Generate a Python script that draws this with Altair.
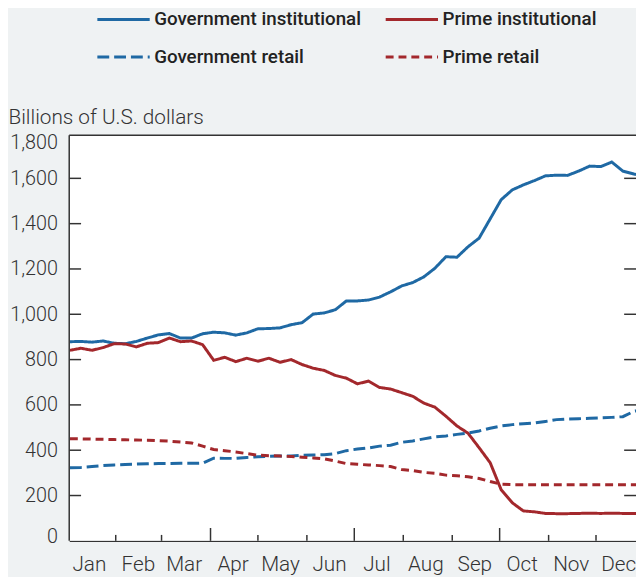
import altair as alt
import pandas as pd

# ---- data (weekly, 2016; billions of U.S. dollars) ----
weeks = pd.date_range("2016-01-03", periods=53, freq="7D").strftime("%Y-%m-%dT00:00:00").tolist()

series_names = ["Government institutional", "Government retail",
                "Prime institutional", "Prime retail"]

gov_inst = [879, 880, 877, 882, 872, 870, 880, 895, 909, 915, 895, 895, 914,
            921, 918, 908, 918, 936, 937, 940, 954, 963, 1001, 1006, 1020, 1059,
            1059, 1063, 1076, 1099, 1125, 1140, 1165, 1203, 1254, 1252, 1298, 1336,
            1421, 1506, 1549, 1571, 1590, 1611, 1614, 1613, 1632, 1654, 1652, 1672,
            1632, 1619, 1610]

prime_inst = [841, 850, 841, 853, 870, 869, 856, 872, 875, 895, 879, 882, 866,
              797, 810, 791, 806, 793, 806, 788, 800, 778, 762, 752, 730, 718,
              693, 705, 677, 670, 654, 638, 608, 590, 550, 507, 475, 411,
              345, 225, 168, 132, 128, 121, 120, 120, 121, 122, 121, 122,
              121, 121, 121]

gov_retail = [323, 324, 328, 332, 335, 337, 339, 340, 341, 341, 342, 342, 343,
              365, 364, 364, 368, 371, 373, 374, 375, 378, 379, 380, 385, 398,
              405, 410, 418, 422, 435, 441, 450, 459, 463, 470, 476, 485,
              497, 507, 513, 517, 520, 527, 535, 538, 539, 541, 543, 545,
              548, 572, 580]

prime_retail = [451, 450, 449, 448, 447, 446, 445, 444, 442, 440, 436, 432, 418,
                403, 398, 392, 385, 378, 376, 374, 372, 369, 366, 362, 352, 341,
                338, 335, 332, 328, 315, 310, 302, 298, 290, 287, 283, 275,
                262, 250, 248, 248, 248, 248, 248, 248, 248, 248, 248, 248,
                248, 248, 248]

y_labels = [0, 200, 400, 600, 800, 1000, 1200, 1400, 1600, 1800]
y_ticks = [200, 400, 600, 800, 1000, 1200, 1400, 1600]
top_border = [1790]
month_labels = [alt.DateTime(year=2016, month=m, date=15) for m in range(1, 13)]
month_ticks_short = ["2016-02-01T00:00:00", "2016-03-01T00:00:00", "2016-05-01T00:00:00",
                     "2016-06-01T00:00:00", "2016-08-01T00:00:00", "2016-09-01T00:00:00",
                     "2016-11-01T00:00:00", "2016-12-01T00:00:00"]
month_ticks_long = ["2016-04-01T00:00:00", "2016-07-01T00:00:00", "2016-10-01T00:00:00"]

rows = []
for name, vals in zip(["Government institutional", "Prime institutional",
                       "Government retail", "Prime retail"],
                      [gov_inst, prime_inst, gov_retail, prime_retail]):
    for d, v in zip(weeks, vals):
        rows.append({"date": d, "value": v, "series": name})
df = pd.DataFrame(rows)

# ---- styling ----
W, H = 574, 413
BLUE, RED = "#1f69a4", "#a3282c"
AX = "#333333"
FONT = "Roboto"
color_range = [BLUE, BLUE, RED, RED]
dash_range = [[1, 0], [12, 5], [1, 0], [8, 5]]

legend = alt.Legend(
    title=None, orient="none", legendX=27, legendY=-143, columns=2,
    values=series_names,
    symbolType="stroke", symbolSize=2809, symbolStrokeWidth=3,
    labelFont=FONT, labelFontSize=19,
    labelFontWeight=500, labelColor="#222222", labelLimit=400,
    columnPadding=18, rowPadding=-4, labelOffset=3, padding=0,
)

color = alt.Color("series:N", sort=series_names,
                  scale=alt.Scale(domain=series_names, range=color_range),
                  legend=legend)
dash = alt.StrokeDash("series:N", sort=series_names,
                      scale=alt.Scale(domain=series_names, range=dash_range),
                      legend=legend)

x_enc = alt.X(
    "date:T",
    scale=alt.Scale(domain=[alt.DateTime(year=2016, month=1, date=2, hours=13, minutes=30),
                            alt.DateTime(year=2016, month=12, date=26, hours=7, minutes=30)]),
    axis=alt.Axis(title=None, values=month_labels, format="%b", ticks=False, grid=False,
                  domain=True, domainColor=AX, domainWidth=1.5,
                  labelFont=FONT, labelFontSize=21, labelFontWeight=300, labelColor=AX,
                  labelPadding=13, labelOverlap=False, labelBound=False, labelFlush=False),
)
y_enc = alt.Y(
    "value:Q",
    scale=alt.Scale(domain=[0, 1800], nice=False, zero=True),
    axis=alt.Axis(values=y_labels, format=",.0f", ticks=False, grid=False,
                  domain=False,
                  labelFont=FONT, labelFontSize=20, labelFontWeight=300, labelColor=AX,
                  labelPadding=12, labelFlush=False,
                  labelBaseline={"condition": {"test": "datum.value >= 1800", "value": "top"},
                                 "value": "middle"},
                  labelOffset={"condition": {"test": "datum.value <= 0", "value": -4},
                               "value": 0},
                  title="Billions of U.S. dollars", titleAngle=0, titleAlign="left",
                  titleBaseline="alphabetic", titleX=-62, titleY=-10,
                  titleFont=FONT, titleFontSize=21, titleFontWeight=300, titleColor=AX),
)

# white plot panel, from the x axis up to the top border
panel = alt.Chart(pd.DataFrame({"value": top_border})).mark_rect(color="white").encode(
    y=y_enc, y2=alt.value(H), x=alt.value(0), x2=alt.value(W))

lines = alt.Chart(df).mark_line(strokeWidth=3, strokeCap="butt", clip=True).encode(
    x=x_enc, y=y_enc, color=color, strokeDash=dash, detail="series:N"
)

ticks_short = alt.Chart(pd.DataFrame({"date": month_ticks_short})).mark_rule(
    color=AX, strokeWidth=1.5).encode(x=x_enc, y=alt.value(H), y2=alt.value(H - 6))
ticks_long = alt.Chart(pd.DataFrame({"date": month_ticks_long})).mark_rule(
    color=AX, strokeWidth=1.5).encode(x=x_enc, y=alt.value(H), y2=alt.value(H - 13))

ticks_left = alt.Chart(pd.DataFrame({"value": y_ticks})).mark_rule(
    color=AX, strokeWidth=1.5).encode(y=y_enc, x=alt.value(0), x2=alt.value(12))
ticks_right = alt.Chart(pd.DataFrame({"value": y_ticks})).mark_rule(
    color=AX, strokeWidth=1.5).encode(y=y_enc, x=alt.value(W - 12), x2=alt.value(W))
top_rule = alt.Chart(pd.DataFrame({"value": top_border})).mark_rule(
    color=AX, strokeWidth=1.5).encode(y=y_enc, x=alt.value(0), x2=alt.value(W))
left_rule = alt.Chart(pd.DataFrame({"value": top_border})).mark_rule(
    color=AX, strokeWidth=1.5).encode(y=y_enc, y2=alt.value(H), x=alt.value(0))

chart = alt.layer(panel, lines, ticks_short, ticks_long, ticks_left, ticks_right,
                  top_rule, left_rule).properties(
    width=W, height=H,
    autosize=alt.AutoSizeParams(type="none"),
    padding={"left": 62, "top": 123, "right": 0, "bottom": 33},
    background="#eff2f3",
).configure_view(strokeWidth=0)

chart.save("out.html", embed_options={"renderer": "svg", "actions": False})
